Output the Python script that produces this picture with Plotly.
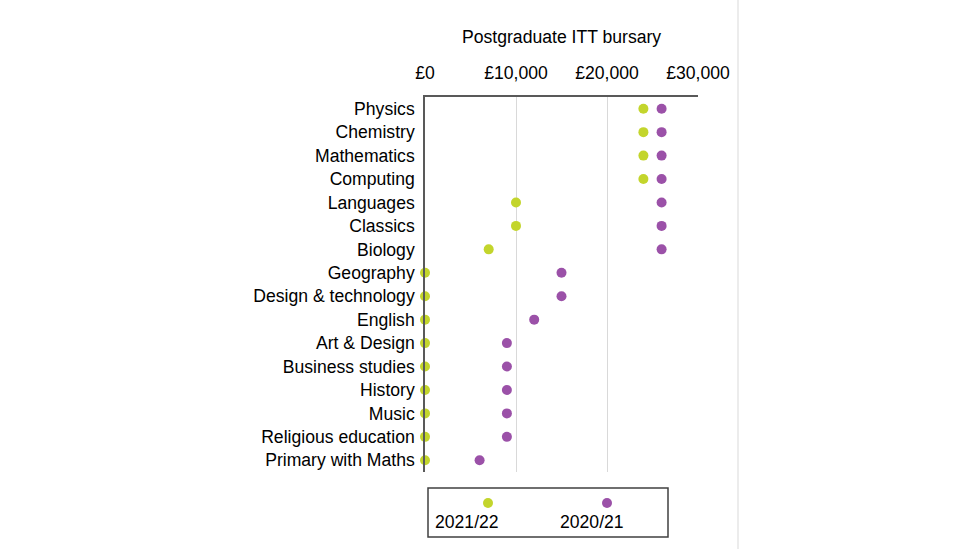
import plotly.graph_objects as go

categories = ["Physics", "Chemistry", "Mathematics", "Computing", "Languages", "Classics",
              "Biology", "Geography", "Design & technology", "English", "Art & Design",
              "Business studies", "History", "Music", "Religious education", "Primary with Maths"]
bursary_2021_22 = [24000, 24000, 24000, 24000, 10000, 10000, 7000, 0, 0, 0, 0, 0, 0, 0, 0, 0]
bursary_2020_21 = [26000, 26000, 26000, 26000, 26000, 26000, 26000, 15000, 15000, 12000,
                   9000, 9000, 9000, 9000, 9000, 6000]
series_names = ["2021/22", "2020/21"]
tick_values = [0, 10000, 20000, 30000]
tick_labels = ["£0", "£10,000", "£20,000", "£30,000"]

GREEN = "#c3d52c"
PURPLE = "#9b51a8"
FONT = "Liberation Sans, Arial, sans-serif"
FS = 17.6

fig = go.Figure()
fig.add_trace(go.Scatter(x=bursary_2021_22, y=categories, mode="markers", name=series_names[0],
                         marker=dict(color=GREEN, size=10), cliponaxis=False, showlegend=False))
fig.add_trace(go.Scatter(x=bursary_2020_21, y=categories, mode="markers", name=series_names[1],
                         marker=dict(color=PURPLE, size=10), cliponaxis=False, showlegend=False))

L, T, W, H = 425, 97, 273, 375
fig.update_layout(
    width=976, height=549,
    margin=dict(l=L, r=976 - L - W, t=T, b=549 - T - H),
    paper_bgcolor="white", plot_bgcolor="white",
    font=dict(family=FONT, size=FS, color="#000000"),
    showlegend=False,
)
fig.update_xaxes(side="top", range=[0, 30000], tickvals=tick_values, ticktext=tick_labels,
                 showgrid=True, gridcolor="#d9d9d9", gridwidth=1, zeroline=False,
                 showline=True, linecolor="#595959", linewidth=1.5, ticks="",
                 ticklabelstandoff=9, tickfont=dict(size=FS))
fig.update_yaxes(categoryorder="array", categoryarray=categories, autorange=False,
                 range=[15.5, -0.5], showgrid=False, zeroline=False,
                 showline=True, linecolor="#595959", linewidth=1.5, ticks="",
                 ticklabelstandoff=5, tickfont=dict(size=FS))

# Title above the axis
fig.add_annotation(text="Postgraduate ITT bursary", xref="paper", yref="paper",
                   x=0.5, y=1 + (T - 37) / H, showarrow=False, font=dict(size=FS),
                   xanchor="center", yanchor="middle")

# Light vertical divider on the right
fig.add_shape(type="line", xref="paper", yref="paper",
              x0=(738 - L) / W, x1=(738 - L) / W, y0=-(549 - T - H) / H, y1=1 + T / H,
              line=dict(color="#e6e6e6", width=1.5))

# Manual legend (marker above label, boxed)
def px_x(p):
    return (p - L) / W

def px_y(p):
    return (T + H - p) / H

fig.add_shape(type="rect", xref="paper", yref="paper",
              x0=px_x(428), x1=px_x(668), y0=px_y(537), y1=px_y(488),
              line=dict(color="#404040", width=1.5), fillcolor="white")
for name, color, mx, tx in [(series_names[0], GREEN, 488, 467), (series_names[1], PURPLE, 607, 592)]:
    fig.add_shape(type="circle", xref="paper", yref="paper", xsizemode="pixel", ysizemode="pixel",
                  xanchor=px_x(mx), yanchor=px_y(503), x0=-5, x1=5, y0=-5, y1=5,
                  fillcolor=color, line=dict(width=0))
    fig.add_annotation(text=name, xref="paper", yref="paper", x=px_x(tx), y=px_y(522),
                       showarrow=False, xanchor="center", yanchor="middle", font=dict(size=FS))

fig.write_html("out.html")
